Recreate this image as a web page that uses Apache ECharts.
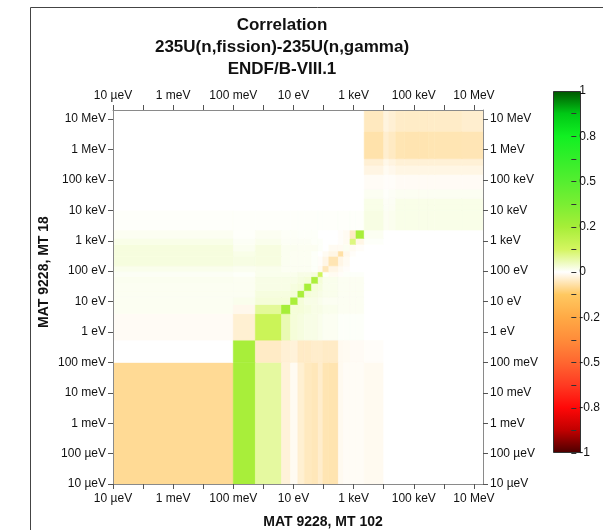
<!DOCTYPE html>
<html>
<head>
<meta charset="utf-8">
<title>Correlation 235U(n,fission)-235U(n,gamma)</title>
<script src="https://cdn.jsdelivr.net/npm/echarts@6/dist/echarts.min.js"></script>
<style>
    html, body { margin: 0; padding: 0; background: #fff; }
    #main { width: 603px; height: 530px; }
</style>
</head>
<body>
<div id="main"></div>
<script>
    // group boundaries (eV), same grid for both axes
    var energyEdges = [1e-5, 0.1, 0.54, 4, 8, 14, 23, 40, 66, 95, 150, 310, 460, 760, 1200, 2250,
        1e4, 1.5e4, 2.5e4, 5e4, 1.5e5, 3e5, 5e5, 4e6, 2e7];

    // correlation, row = MT 18 group (bottom to top), column = MT 102 group (left to right)
    var corrRows = [
        [-0.083, 0.245, 0.075, -0.03, -0.01, -0.035, -0.05, -0.055, -0.04, -0.06, -0.062, -0.012, -0.007, -0.007, -0.007, -0.012, 0, 0, 0, 0, 0, 0, 0, 0],
        [0, 0.245, -0.045, -0.033, -0.03, -0.045, -0.045, -0.04, -0.04, -0.045, -0.045, -0.012, -0.01, -0.008, -0.008, -0.005, 0, 0, 0, 0, 0, 0, 0, 0],
        [-0.008, -0.035, 0.15, 0.06, 0.03, 0.025, 0.02, 0.02, 0.015, 0.01, 0.01, 0.005, 0.005, 0.005, 0.005, 0, 0, 0, 0, 0, 0, 0, 0, 0],
        [0.01, -0.015, 0.08, 0.25, 0.03, 0.03, 0.025, 0.02, 0.02, 0.015, 0.015, 0.01, 0.01, 0.01, 0.01, 0, 0, 0, 0, 0, 0, 0, 0, 0],
        [0.01, 0.015, 0.03, 0.03, 0.24, 0.03, 0.02, 0.02, 0.015, 0.01, 0.01, 0.01, 0.01, 0.01, 0.01, 0, 0, 0, 0, 0, 0, 0, 0, 0],
        [0.01, 0.01, 0.025, 0.025, 0.03, 0.24, 0.03, 0.025, 0.02, 0.015, 0.015, 0.01, 0.01, 0.01, 0.01, 0, 0, 0, 0, 0, 0, 0, 0, 0],
        [0.01, 0.01, 0.02, 0.02, 0.025, 0.03, 0.245, 0.03, 0.025, 0.015, 0.015, 0.01, 0.01, 0.01, 0.01, 0, 0, 0, 0, 0, 0, 0, 0, 0],
        [0.012, 0.01, 0.02, 0.02, 0.02, 0.025, 0.03, 0.235, 0.03, 0.015, 0.015, 0.01, 0.01, 0.01, 0.01, 0, 0, 0, 0, 0, 0, 0, 0, 0],
        [0.008, 0.005, 0.015, 0.015, 0.015, 0.02, 0.02, 0.025, 0.14, 0.005, -0.01, -0.005, 0.005, 0.005, 0.005, 0, 0, 0, 0, 0, 0, 0, 0, 0],
        [0.015, 0.012, 0.015, 0.01, 0.01, 0.01, 0.01, 0.005, -0.01, -0.055, -0.02, -0.01, -0.005, 0, 0, 0, 0, 0, 0, 0, 0, 0, 0, 0],
        [0.026, 0.022, 0.024, 0.012, 0.01, 0.01, 0.01, 0.005, -0.005, -0.02, -0.06, -0.02, -0.01, 0, 0, 0, 0, 0, 0, 0, 0, 0, 0, 0],
        [0.026, 0.018, 0.024, 0.012, 0.01, 0.01, 0.01, 0.005, 0, -0.01, -0.02, -0.07, -0.015, -0.005, 0, 0, 0, 0, 0, 0, 0, 0, 0, 0],
        [0.026, 0.012, 0.024, 0.012, 0.012, 0.01, 0.01, 0.01, 0.005, 0, -0.01, -0.01, 0.01, -0.01, -0.005, 0, 0, 0, 0, 0, 0, 0, 0, 0],
        [0.018, 0.008, 0.015, 0.008, 0.008, 0.008, 0.008, 0.005, 0.005, 0, 0, -0.005, -0.01, 0.1, -0.02, 0.005, 0, 0, 0, 0, 0, 0, 0, 0],
        [0.01, 0.004, 0.01, 0.006, 0.006, 0.005, 0.005, 0.005, 0, 0, 0, -0.005, -0.01, -0.045, 0.245, 0.01, 0, 0, 0, 0, 0, 0, 0, 0],
        [0.004, 0.004, 0.004, 0.004, 0.004, 0.004, 0.004, 0.004, 0.004, 0.004, 0.004, 0.004, 0.004, 0.004, 0.004, 0.022, 0.01, 0.013, 0.018, 0.018, 0.018, 0.018, 0.018, 0.018],
        [0, 0, 0, 0, 0, 0, 0, 0, 0, 0, 0, 0, 0, 0, 0, 0.018, 0.008, 0.01, 0.018, 0.018, 0.018, 0.018, 0.018, 0.018],
        [0, 0, 0, 0, 0, 0, 0, 0, 0, 0, 0, 0, 0, 0, 0, 0.018, 0.007, 0.009, 0.018, 0.018, 0.018, 0.018, 0.018, 0.018],
        [0, 0, 0, 0, 0, 0, 0, 0, 0, 0, 0, 0, 0, 0, 0, 0.01, 0.004, 0.007, 0.01, 0.01, 0.01, 0.01, 0.01, 0.01],
        [0, 0, 0, 0, 0, 0, 0, 0, 0, 0, 0, 0, 0, 0, 0, -0.007, -0.004, -0.005, -0.008, -0.008, -0.008, -0.008, -0.008, -0.008],
        [0, 0, 0, 0, 0, 0, 0, 0, 0, 0, 0, 0, 0, 0, 0, -0.022, -0.01, -0.015, -0.021, -0.021, -0.021, -0.021, -0.021, -0.021],
        [0, 0, 0, 0, 0, 0, 0, 0, 0, 0, 0, 0, 0, 0, 0, -0.034, -0.017, -0.024, -0.032, -0.032, -0.032, -0.032, -0.032, -0.032],
        [0, 0, 0, 0, 0, 0, 0, 0, 0, 0, 0, 0, 0, 0, 0, -0.066, -0.038, -0.047, -0.06, -0.061, -0.061, -0.06, -0.06, -0.058],
        [0, 0, 0, 0, 0, 0, 0, 0, 0, 0, 0, 0, 0, 0, 0, -0.05, -0.026, -0.034, -0.043, -0.044, -0.044, -0.043, -0.043, -0.038]
    ];

    // axis ticks, in log10(E / eV)
    var tickExps = [-5, -4, -3, -2, -1, 0, 1, 2, 3, 4, 5, 6, 7];
    var tickLabels = ['10 µeV', '100 µeV', '1 meV', '10 meV', '100 meV', '1 eV', '10 eV', '100 eV',
        '1 keV', '10 keV', '100 keV', '1 MeV', '10 MeV'];
    var xLabelExps = [-5, -3, -1, 1, 3, 5, 7];

    // colour bar
    var cbTicks = [-1, -0.875, -0.75, -0.625, -0.5, -0.375, -0.25, -0.125, 0, 0.125, 0.25, 0.375, 0.5, 0.625, 0.75, 0.875, 1];
    var cbLabelValues = [-1, -0.75, -0.5, -0.25, 0, 0.25, 0.5, 0.75, 1];
    var cbLabels = ['-1', '-0.8', '-0.5', '-0.2', '0', '0.2', '0.5', '0.8', '1'];
    var cbColors = ['#4a0000', '#c00000', '#ff0808', '#ff3a22', '#ff6630', '#ff8c3a', '#ffaa45', '#ffc860',
        '#ffffff', '#d4f560', '#a6ee38', '#7aee33', '#55ee30', '#33ee2a', '#11f022', '#00c815', '#005500'];

    var FONT = '"Liberation Sans", Arial, sans-serif';
    var logMin = Math.log10(energyEdges[0]);
    var logMax = Math.log10(energyEdges[energyEdges.length - 1]);

    var cells = [];
    for (var i = 0; i < corrRows.length; i++) {
        for (var j = 0; j < corrRows[i].length; j++) {
            cells.push([
                Math.log10(energyEdges[j]), Math.log10(energyEdges[j + 1]),
                Math.log10(energyEdges[i]), Math.log10(energyEdges[i + 1]),
                corrRows[i][j]
            ]);
        }
    }

    // gradient for the colour bar, top = +1
    var barStops = [];
    for (var k = 0; k < cbColors.length; k++) {
        barStops.push({offset: k / (cbColors.length - 1), color: cbColors[cbColors.length - 1 - k]});
    }

    function energyLabel(v) {
        var k = tickExps.indexOf(Math.round(v));
        return k < 0 ? '' : tickLabels[k];
    }

    function energyAxis(position, labelExps, margin) {
        return {
            type: 'value',
            position: position,
            z: 5,
            min: logMin,
            max: logMax,
            axisLine: {show: true, onZero: false, lineStyle: {color: '#8a8a8a', width: 1}},
            axisTick: {show: true, length: 5, customValues: tickExps, lineStyle: {color: '#555'}},
            axisLabel: {
                customValues: labelExps,
                formatter: energyLabel,
                margin: margin,
                color: '#111',
                fontSize: 12,
                fontFamily: FONT
            },
            splitLine: {show: false}
        };
    }

    var chart = echarts.init(document.getElementById('main'));

    var option = {
        animation: false,
        backgroundColor: '#fff',
        grid: [
            {left: 113, top: 110, width: 370, height: 374},
            {left: 553, top: 91, width: 28, height: 362}
        ],
        xAxis: [
            energyAxis('bottom', xLabelExps, 9),
            energyAxis('top', xLabelExps, 8),
            {type: 'value', gridIndex: 1, show: false, min: 0, max: 1}
        ],
        yAxis: [
            energyAxis('left', tickExps, 7),
            energyAxis('right', tickExps, 7),
            {
                type: 'value',
                gridIndex: 1,
                position: 'right',
                z: 120,
                min: -1,
                max: 1,
                axisLine: {show: false, onZero: false},
                axisTick: {show: true, length: 5, customValues: cbTicks, lineStyle: {color: '#333'}},
                axisLabel: {
                    customValues: cbLabelValues,
                    formatter: function (v) {
                        var k = cbLabelValues.indexOf(v);
                        return k < 0 ? '' : cbLabels[k];
                    },
                    margin: 8,
                    color: '#111',
                    fontSize: 12,
                    fontFamily: FONT
                },
                splitLine: {show: false}
            }
        ],
        visualMap: {
            type: 'continuous',
            show: false,
            min: -1,
            max: 1,
            dimension: 4,
            seriesIndex: 0,
            inRange: {color: cbColors}
        },
        graphic: [
            {type: 'rect', silent: true, z: 1, shape: {x: 30.5, y: 7.5, width: 900, height: 900},
                style: {fill: null, stroke: '#444', lineWidth: 1}},
            {type: 'rect', silent: true, z: 100, shape: {x: 553.5, y: 91.5, width: 27, height: 361},
                style: {
                    fill: {type: 'linear', x: 0, y: 0, x2: 0, y2: 1, colorStops: barStops},
                    stroke: '#333', lineWidth: 1
                }},
            {type: 'text', x: 282, y: 25, silent: true,
                style: {text: 'Correlation', fontSize: 17, fontWeight: 'bold', fontFamily: FONT,
                    fill: '#111', align: 'center', verticalAlign: 'middle'}},
            {type: 'text', x: 282, y: 47, silent: true,
                style: {text: '235U(n,fission)-235U(n,gamma)', fontSize: 17, fontWeight: 'bold', fontFamily: FONT,
                    fill: '#111', align: 'center', verticalAlign: 'middle'}},
            {type: 'text', x: 282, y: 69, silent: true,
                style: {text: 'ENDF/B-VIII.1', fontSize: 17, fontWeight: 'bold', fontFamily: FONT,
                    fill: '#111', align: 'center', verticalAlign: 'middle'}},
            {type: 'text', x: 323, y: 522, silent: true,
                style: {text: 'MAT 9228, MT 102', fontSize: 14, fontWeight: 'bold', fontFamily: FONT,
                    fill: '#111', align: 'center', verticalAlign: 'middle'}},
            {type: 'text', x: 44, y: 272, rotation: Math.PI / 2, silent: true,
                style: {text: 'MAT 9228, MT 18', fontSize: 14, fontWeight: 'bold', fontFamily: FONT,
                    fill: '#111', align: 'center', verticalAlign: 'middle'}}
        ],
        series: [{
            type: 'custom',
            xAxisIndex: 0,
            yAxisIndex: 0,
            z: 2,
            clip: true,
            encode: {x: [0, 1], y: [2, 3]},
            data: cells,
            renderItem: function (params, api) {
                var topLeft = api.coord([api.value(0), api.value(3)]);
                var bottomRight = api.coord([api.value(1), api.value(2)]);
                var color = api.visual('color');
                return {
                    type: 'rect',
                    shape: {
                        x: topLeft[0],
                        y: topLeft[1],
                        width: bottomRight[0] - topLeft[0],
                        height: bottomRight[1] - topLeft[1]
                    },
                    style: {fill: color, stroke: color, lineWidth: 0.6}
                };
            }
        }]
    };

    chart.setOption(option);
</script>
</body>
</html>
